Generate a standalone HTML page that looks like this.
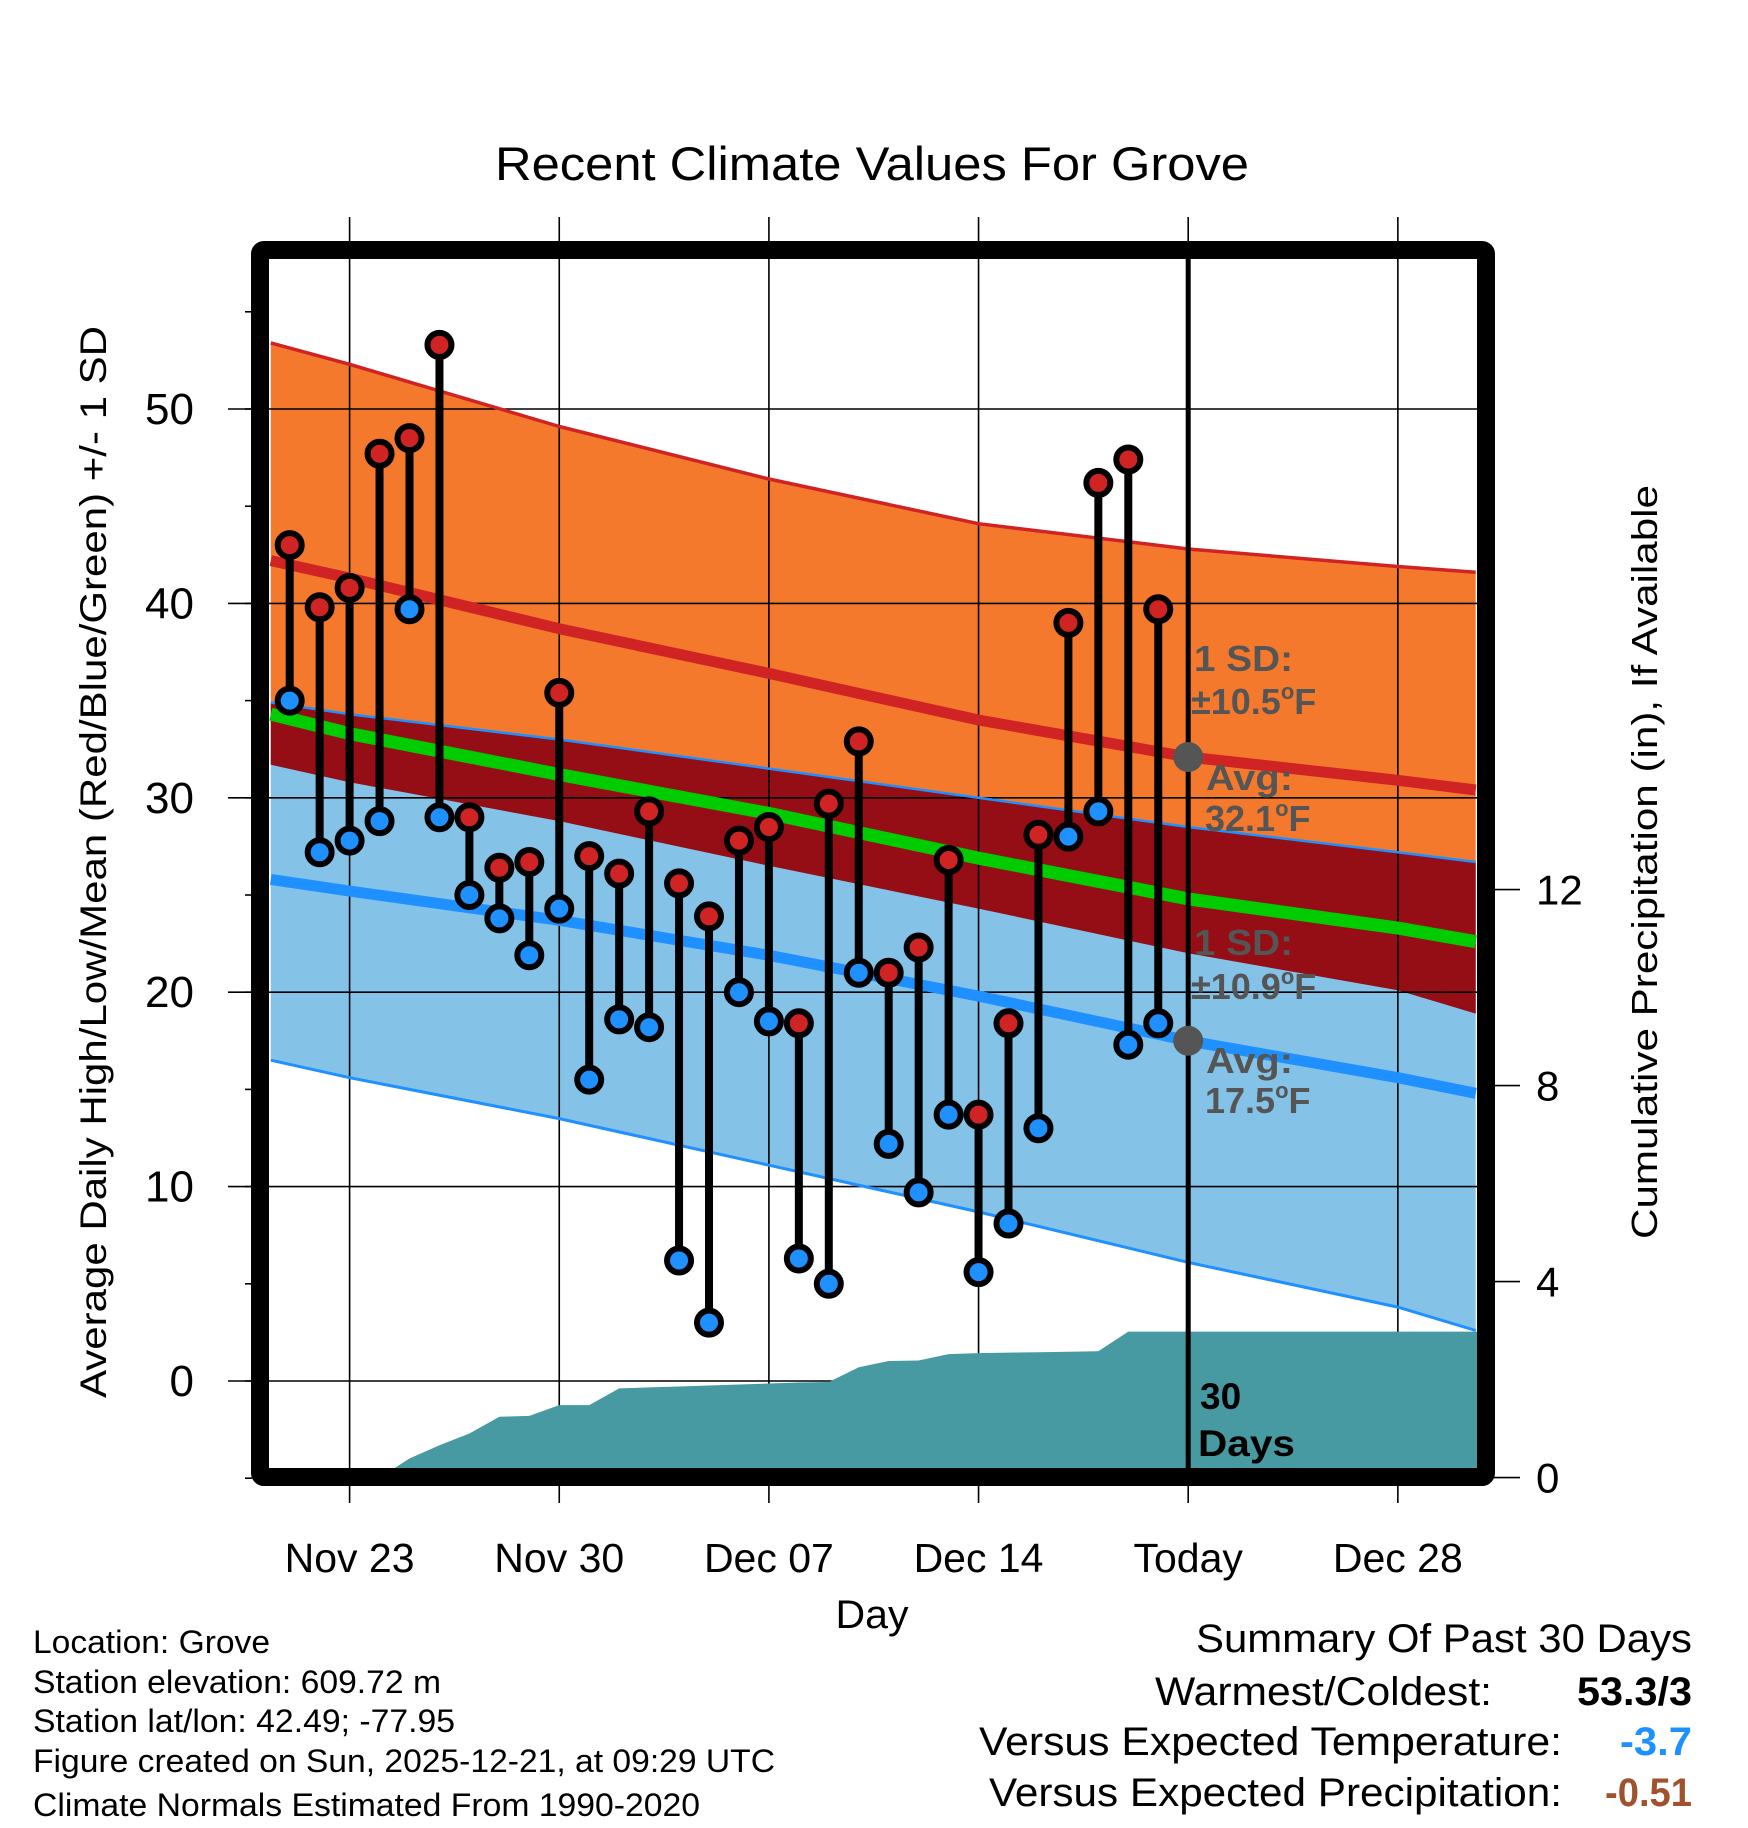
<!DOCTYPE html>
<html><head><meta charset="utf-8"><style>
html,body{margin:0;padding:0;background:#fff;}
svg{display:block;font-family:"Liberation Sans",sans-serif;}
</style></head><body>
<svg id="chart" width="1748" height="1828" viewBox="0 0 1748 1828" xmlns="http://www.w3.org/2000/svg">
<g id="fills"></g>
<g id="grid"></g>
<g id="lines"></g>
<g id="precip"></g>
<g id="marks"></g>
<g id="axes"></g>
<text x="872" y="180" font-size="47" text-anchor="middle" textLength="754" lengthAdjust="spacingAndGlyphs">Recent Climate Values For Grove</text>
<text transform="translate(106,862) rotate(-90)" font-size="37" text-anchor="middle" textLength="1072" lengthAdjust="spacingAndGlyphs">Average Daily High/Low/Mean (Red/Blue/Green) +/- 1 SD</text>
<text transform="translate(1657,862) rotate(-90)" font-size="36" text-anchor="middle" textLength="754" lengthAdjust="spacingAndGlyphs">Cumulative Precipitation (in), If Available</text>
<text x="872" y="1628" font-size="40" text-anchor="middle" textLength="73" lengthAdjust="spacingAndGlyphs">Day</text>
<g font-weight="bold" fill="#555" font-size="36">
<text x="1194" y="671" textLength="99" lengthAdjust="spacingAndGlyphs">1 SD:</text>
<text x="1191" y="714">±10.5<tspan font-size="22" dy="-15">o</tspan><tspan dy="15">F</tspan></text>
<text x="1206" y="790" textLength="87" lengthAdjust="spacingAndGlyphs">Avg:</text>
<text x="1205" y="831">32.1<tspan font-size="22" dy="-15">o</tspan><tspan dy="15">F</tspan></text>
<text x="1194" y="955" textLength="99" lengthAdjust="spacingAndGlyphs">1 SD:</text>
<text x="1191" y="999">±10.9<tspan font-size="22" dy="-15">o</tspan><tspan dy="15">F</tspan></text>
<text x="1206" y="1073" textLength="87" lengthAdjust="spacingAndGlyphs">Avg:</text>
<text x="1205" y="1113">17.5<tspan font-size="22" dy="-15">o</tspan><tspan dy="15">F</tspan></text>
</g>
<g font-weight="bold" fill="#000" font-size="37">
<text x="1200" y="1409">30</text><text x="1198" y="1456" textLength="97" lengthAdjust="spacingAndGlyphs">Days</text>
</g>
<g font-size="32" fill="#000" lengthAdjust="spacingAndGlyphs">
<text x="33" y="1653" textLength="237" lengthAdjust="spacingAndGlyphs">Location: Grove</text>
<text x="33" y="1693" textLength="408" lengthAdjust="spacingAndGlyphs">Station elevation: 609.72 m</text>
<text x="33" y="1732" textLength="422" lengthAdjust="spacingAndGlyphs">Station lat/lon: 42.49; -77.95</text>
<text x="33" y="1772" textLength="742" lengthAdjust="spacingAndGlyphs">Figure created on Sun, 2025-12-21, at 09:29 UTC</text>
<text x="33" y="1816" textLength="667" lengthAdjust="spacingAndGlyphs">Climate Normals Estimated From 1990-2020</text>
</g>
<g font-size="40" fill="#000" text-anchor="end">
<text x="1692" y="1652" textLength="496" lengthAdjust="spacingAndGlyphs">Summary Of Past 30 Days</text>
<text x="1492" y="1705" textLength="337" lengthAdjust="spacingAndGlyphs">Warmest/Coldest:</text>
<text x="1692" y="1705" font-weight="bold" textLength="115" lengthAdjust="spacingAndGlyphs">53.3/3</text>
<text x="1562" y="1755" textLength="583" lengthAdjust="spacingAndGlyphs">Versus Expected Temperature:</text>
<text x="1692" y="1755" font-weight="bold" fill="#1E90FF" textLength="72" lengthAdjust="spacingAndGlyphs">-3.7</text>
<text x="1562" y="1806" textLength="573" lengthAdjust="spacingAndGlyphs">Versus Expected Precipitation:</text>
<text x="1692" y="1806" font-weight="bold" fill="#A0522D" textLength="87" lengthAdjust="spacingAndGlyphs">-0.51</text>
</g>
</svg>
<script>
const normDays = [-2.63, 0, 7, 14, 21, 28, 35, 37.6];
const highUpper = [53.4, 52.3, 49.1, 46.4, 44.1, 42.8, 41.9, 41.6];
const highMean  = [42.2, 41.3, 38.7, 36.4, 34.0, 32.1, 30.9, 30.4];
const highLower = [31.7, 30.8, 28.8, 26.5, 24.3, 22.0, 20.1, 18.9];
const lowUpper  = [34.9, 34.3, 33.0, 31.5, 30.0, 28.5, 27.2, 26.7];
const lowMean   = [25.8, 25.2, 23.7, 21.9, 19.8, 17.5, 15.6, 14.8];
const lowLower  = [16.5, 15.6, 13.5, 11.1, 8.7, 6.1, 3.8, 2.6];
const allMean   = [34.3, 33.3, 31.2, 29.2, 26.9, 24.8, 23.3, 22.6];
const obsDays = [-2,-1,0,1,2,3,4,5,6,7,8,9,10,11,12,13,14,15,16,17,18,19,20,21,22,23,24,25,26,27];
const highs = [43,39.8,40.8,47.7,48.5,53.3,29,26.4,26.7,35.4,27,26.1,29.3,25.6,23.9,27.8,28.5,18.4,29.7,32.9,21,22.3,26.8,13.7,18.4,28.1,39,46.2,47.4,39.7];
const lows  = [35,27.2,27.8,28.8,39.7,29,25,23.8,21.9,24.3,15.5,18.6,18.2,6.2,3,20,18.5,6.3,5,21,12.2,9.7,13.7,5.6,8.1,13,28,29.3,17.3,18.4];
const precipCum = [0,0,0,0,0.39,0.66,0.9,1.24,1.26,1.48,1.48,1.82,1.84,1.86,1.88,1.9,1.92,1.94,1.95,2.25,2.38,2.39,2.52,2.54,2.55,2.56,2.57,2.58,2.98,2.98];
const xTickDays = [0,7,14,21,28,35];
const xTickLabels = ["Nov 23","Nov 30","Dec 07","Dec 14","Today","Dec 28"];
const yTicks = [0,10,20,30,40,50];
const y2Ticks = [0,4,8,12];
const todayDay = 28;
const todayHighAvg = 32.1, todayLowAvg = 17.5;

const NS="http://www.w3.org/2000/svg";
const L=269, R=1477, T=259, B=1468;
const X=d=>349.6+29.95*d;
const Y=v=>1381-v*19.44;
const YP=p=>1477.6-p*49;
function mk(tag,attrs,parent){const e=document.createElementNS(NS,tag);for(const k in attrs)e.setAttribute(k,attrs[k]);parent.appendChild(e);return e;}
const pts=(days,vals,f)=>days.map((d,i)=>X(d).toFixed(1)+","+f(vals[i]).toFixed(1));
function band(lo,hi,color,name){
  const p=pts(normDays,hi,Y).concat(pts(normDays,lo,Y).reverse()).join(" ");
  const e=mk("polygon",{points:p,fill:color},document.getElementById("fills"));
  
  
}
band(highLower,highUpper,"#F5792D","high-sd-band");
band(lowLower,lowUpper,"#84C2E8","low-sd-band");
band(highLower,lowUpper,"#950D15","overlap-band");

const grid=document.getElementById("grid");
xTickDays.forEach((d,i)=>{
  const e=mk("line",{x1:X(d),x2:X(d),y1:217,y2:1503,stroke:"#000","stroke-width":1.6},grid);
  
  
});
yTicks.forEach(v=>{
  const e=mk("line",{x1:228,x2:R,y1:Y(v),y2:Y(v),stroke:"#000","stroke-width":1.6},grid);
  
  
});

const lines=document.getElementById("lines");
function ln(vals,color,w,name){
  const e=mk("polyline",{points:pts(normDays,vals,Y).join(" "),fill:"none",stroke:color,"stroke-width":w,"stroke-linejoin":"round"},lines);
  
  
}
ln(highUpper,"#D02424",3.5,"high-upper-line");
ln(highMean,"#D02424",11,"high-mean-line");
ln(lowUpper,"#1E90FF",2.5,"low-upper-line");
ln(lowLower,"#1E90FF",3,"low-lower-line");
ln(lowMean,"#1E90FF",11,"low-mean-line");
ln(allMean,"#00CC00",13,"mean-line");

const pg=document.getElementById("precip");
let pp=[X(obsDays[0])+","+YP(0)];
obsDays.forEach((d,i)=>pp.push(X(d).toFixed(1)+","+YP(precipCum[i]).toFixed(1)));
pp.push(R+","+YP(precipCum[precipCum.length-1]).toFixed(1));
pp.push(R+","+B);pp.push(L+","+B);pp.push(L+","+YP(0));
const pa=mk("polygon",{points:pp.join(" "),fill:"#4799A2"},pg);



const mg=document.getElementById("marks");
const tl=mk("line",{x1:X(todayDay),x2:X(todayDay),y1:T,y2:B,stroke:"#000","stroke-width":5},mg);


[todayHighAvg,todayLowAvg].forEach(v=>{
  const c=mk("circle",{cx:X(todayDay),cy:Y(v),r:15,fill:"#555"},mg);
  
  
});
obsDays.forEach((d,i)=>{
  const s=mk("line",{x1:X(d),x2:X(d),y1:Y(highs[i]),y2:Y(lows[i]),stroke:"#000","stroke-width":8},mg);
  
  
});
obsDays.forEach((d,i)=>{
  const h=mk("circle",{cx:X(d),cy:Y(highs[i]),r:12,fill:"#D02424",stroke:"#000","stroke-width":6},mg);
  
  
  const l=mk("circle",{cx:X(d),cy:Y(lows[i]),r:12,fill:"#1E90FF",stroke:"#000","stroke-width":6},mg);
  
  
});

const ax=document.getElementById("axes");
const fr=mk("rect",{x:260,y:250,width:1226,height:1227,fill:"none",stroke:"#000","stroke-width":18,rx:4},ax);


yTicks.forEach(v=>{
  const t=mk("text",{x:194,y:Y(v)+15,"font-size":44,"text-anchor":"end"},ax);
  t.textContent=v;
  
  
});
for(let v=-5;v<=55;v+=5){
  const e=mk("line",{x1:245,x2:252,y1:Y(v),y2:Y(v),stroke:"#000","stroke-width":1.6},ax);
  
  
}
xTickDays.forEach((d,i)=>{
  const t=mk("text",{x:X(d),y:1572,"font-size":41,"text-anchor":"middle"},ax);
  t.textContent=xTickLabels[i];
  
  
});
y2Ticks.forEach(p=>{
  const e=mk("line",{x1:1494,x2:1520,y1:YP(p),y2:YP(p),stroke:"#000","stroke-width":1.6},ax);
  
  
  const t=mk("text",{x:1536,y:YP(p)+15,"font-size":42},ax);
  t.textContent=p;
  
  
});
</script>
</body></html>
